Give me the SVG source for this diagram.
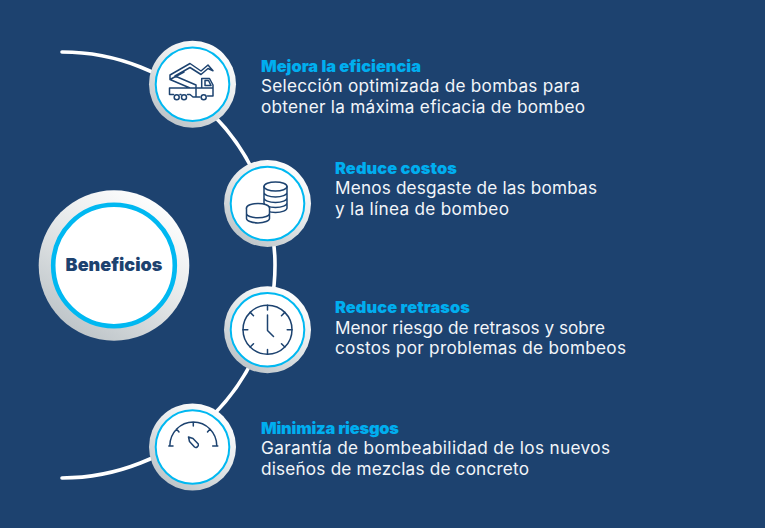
<svg xmlns="http://www.w3.org/2000/svg" width="765" height="528" viewBox="0 0 765 528">
<style>
.t{font-family:"Inter","Liberation Sans",sans-serif;font-size:17.2px;fill:#f2f5f9}
.h{font-family:"Inter","Liberation Sans",sans-serif;font-size:16.4px;font-weight:900;fill:#00aeef}
.ic{fill:none;stroke:#1d4370;stroke-width:1.5;stroke-linecap:round;stroke-linejoin:round}
.ring{fill:#fff;stroke:#00b8f1;stroke-width:2}
</style>
<defs>
<linearGradient id="g" x1="0.2" y1="0.95" x2="0.8" y2="0.05"><stop offset="0" stop-color="#bcc3c7"/><stop offset="0.55" stop-color="#e6e9ea"/><stop offset="1" stop-color="#fff"/></linearGradient>
</defs>
<rect width="765" height="528" fill="#1d426f"/>
<g id="connectors"><path d="M62 52A213 213 0 0 1 62 478" fill="none" stroke="#fff" stroke-width="3.6" stroke-linecap="round"/></g>
<g id="benefits"><circle cx="114" cy="265.500" r="75.300" fill="url(#g)"/><circle cx="114" cy="265.500" r="60.800" fill="#fff" stroke="#00b8f1" stroke-width="4.600"/>
<text x="114" y="271" text-anchor="middle" font-family="Inter,'Liberation Sans',sans-serif" font-size="18" font-weight="900" fill="#1d426f">Beneficios</text></g>
<g id="n1"><circle cx="192.500" cy="84.200" r="43.500" fill="url(#g)"/><circle class="ring" cx="192.500" cy="84.200" r="36.800"/>
<path class="ic" d="M169.500 88H196M169.500 88V94.500H173.500M180 94.500H181M187.500 94.500H190L193 97H200M207.500 96H213V85L209.500 78.500H201.700V88H196V97M201.700 88H213M205 80.500H208.500L211 85.500H205ZM170 75L190 63.500L201 71L208 65L213 70.700L208 68.500L201 74.500L190 67.500L175 76L196 85V88M170 75V79.500L190 88M170 79.500L184 72"/>
<circle class="ic" cx="176.700" cy="97.300" r="2.500"/><circle class="ic" cx="184" cy="97.300" r="2.500"/><circle class="ic" cx="203.700" cy="97.300" r="2.500"/></g>
<g id="n2"><circle cx="267.500" cy="203.500" r="43.500" fill="url(#g)"/><circle class="ring" cx="267.500" cy="203.500" r="36.800"/>
<g class="ic"><ellipse cx="275.500" cy="186.500" rx="11.500" ry="4.500"/><path d="M264 186.500V208C264 210.300 269 212.500 275.500 212.500S287 210.300 287 208V186.500M264 192.500C264 194.800 269 197 275.500 197S287 194.800 287 192.500M264 198C264 200.300 269 202.500 275.500 202.500S287 200.300 287 198M264 203C264 205.300 269 207.500 275.500 207.500S287 205.300 287 203"/>
<ellipse cx="258" cy="208" rx="11.500" ry="4.500" fill="#fff"/><path d="M246.500 208V218.500C246.500 220.700 251.500 222.900 258 222.900S269.500 220.700 269.500 218.500V208M246.500 213.500C246.500 215.700 251.500 217.800 258 217.800S269.500 215.700 269.500 213.500" fill="#fff"/></g></g>
<g id="n3"><circle cx="267.500" cy="329.700" r="43.500" fill="url(#g)"/><circle class="ring" cx="267.500" cy="329.700" r="36.800"/>
<g class="ic"><circle cx="267.500" cy="329.700" r="24.500"/><path d="M267.500 305.200V310M267.500 349.400V354.200M243 329.700H247.800M287.200 329.700H292M250.200 312.400L253.500 315.700M284.800 312.400L281.500 315.700M250.200 347L253.500 343.700M284.800 347L281.500 343.700M267.500 315V330.500L273.500 336.500"/></g></g>
<g id="n4"><circle cx="192.500" cy="447" r="43.500" fill="url(#g)"/><circle class="ring" cx="192.500" cy="447" r="36.800"/>
<g class="ic"><path d="M169.800 446A23.500 24 0 0 1 216.800 446M168.800 446H173M212.700 446H217.800M193.300 422V426M176.500 429L179 432M210 429L207.500 432M188.500 437L193 438.500L198.300 444C199 447 196 448 194.500 447L189.500 441.500Z"/></g></g>
<g id="l1"><text class="h" x="261" y="71.500" textLength="160">Mejora la eficiencia</text><text class="t" x="261" y="92" textLength="319">Selección optimizada de bombas para</text><text class="t" x="261" y="113" textLength="324">obtener la máxima eficacia de bombeo</text></g>
<g id="l2"><text class="h" x="335" y="173.500" textLength="122">Reduce costos</text><text class="t" x="335" y="194" textLength="262">Menos desgaste de las bombas</text><text class="t" x="335" y="215" textLength="174">y la línea de bombeo</text></g>
<g id="l3"><text class="h" x="335" y="312.500" textLength="135">Reduce retrasos</text><text class="t" x="335" y="334" textLength="270">Menor riesgo de retrasos y sobre</text><text class="t" x="335" y="354" textLength="291">costos por problemas de bombeos</text></g>
<g id="l4"><text class="h" x="261" y="433.500" textLength="138">Minimiza riesgos</text><text class="t" x="261" y="454" textLength="349">Garantía de bombeabilidad de los nuevos</text><text class="t" x="261" y="475" textLength="268">diseños de mezclas de concreto</text></g>
</svg>
